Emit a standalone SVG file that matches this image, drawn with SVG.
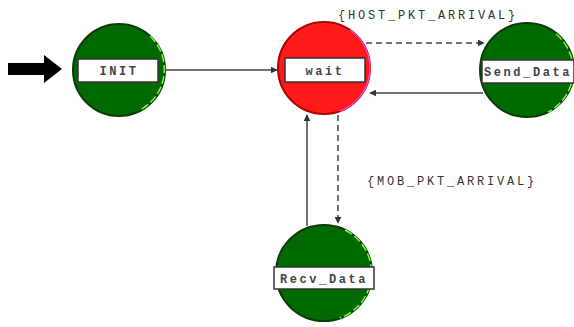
<svg xmlns="http://www.w3.org/2000/svg" width="574" height="327" viewBox="0 0 574 327">
<style>
.green{fill:#006a00;stroke:#0a3a0a;stroke-width:2}
.hl{fill:none;stroke:#77ff33;stroke-width:1.5;stroke-dasharray:8 3}
.red{fill:#ff1a1a;stroke:#b00000;stroke-width:2}
.box{fill:#ffffff;stroke:#333333;stroke-width:1.5}
.lbl{font-family:"Liberation Mono","DejaVu Sans Mono",monospace;font-size:12px;font-weight:bold;fill:#444444;letter-spacing:2.6px}
.cond{font-family:"Liberation Mono","DejaVu Sans Mono",monospace;font-size:12px;fill:#333333;letter-spacing:2.8px}
.line{stroke:#444444;stroke-width:1.5;fill:none}
.dash{stroke:#444444;stroke-width:1.5;fill:none;stroke-dasharray:6 4}
</style>
<defs>
<marker id="ah" viewBox="0 0 10 10" refX="9" refY="5" markerWidth="7" markerHeight="7" markerUnits="userSpaceOnUse" orient="auto">
<path d="M0,0 L10,5 L0,10 z" fill="#333333"/>
</marker>
</defs>
<g id="start-arrow">
<path d="M8,63 L44,63 L44,55 L62,69 L44,83 L44,75 L8,75 z" fill="#000000"/>
</g>
<g id="connectors">
<line class="line" x1="166" y1="70" x2="277" y2="70" marker-end="url(#ah)"/>
<line class="dash" x1="366" y1="43" x2="484" y2="43" marker-end="url(#ah)"/>
<line class="line" x1="483" y1="93" x2="370" y2="93" marker-end="url(#ah)"/>
<line class="line" x1="307" y1="226" x2="307" y2="115" marker-end="url(#ah)"/>
<line class="dash" x1="338" y1="115" x2="338" y2="223" marker-end="url(#ah)"/>
<text class="cond" x="338" y="19">{HOST_PKT_ARRIVAL}</text>
<text class="cond" x="367" y="185">{MOB_PKT_ARRIVAL}</text>
</g>
<g id="INIT">
<circle class="green" cx="119" cy="70" r="46"/>
<path class="hl" d="M150,36 A46,46 0 0 1 140,110"/>
<rect class="box" x="78" y="59" width="80" height="23"/>
<text class="lbl" x="119" y="75" text-anchor="middle">INIT</text>
</g>
<g id="wait">
<circle class="red" cx="324" cy="68" r="46"/>
<path d="M350,30 A46,46 0 0 1 340,111" fill="none" stroke="#ff44cc" stroke-width="1.5"/>
<rect class="box" x="285" y="58" width="80" height="24"/>
<text class="lbl" x="325" y="75" text-anchor="middle">wait</text>
</g>
<g id="Send_Data">
<circle class="green" cx="527" cy="70" r="47"/>
<path class="hl" d="M556,34 A47,47 0 0 1 548,112"/>
<rect class="box" x="482" y="60" width="92" height="23"/>
<text class="lbl" x="528" y="76" text-anchor="middle">Send_Data</text>
</g>
<g id="Recv_Data">
<circle class="green" cx="324" cy="273" r="48"/>
<path class="hl" d="M345,230 A48,48 0 0 1 340,318"/>
<rect class="box" x="274" y="267" width="100" height="22"/>
<text class="lbl" x="324" y="283" text-anchor="middle">Recv_Data</text>
</g>
</svg>
